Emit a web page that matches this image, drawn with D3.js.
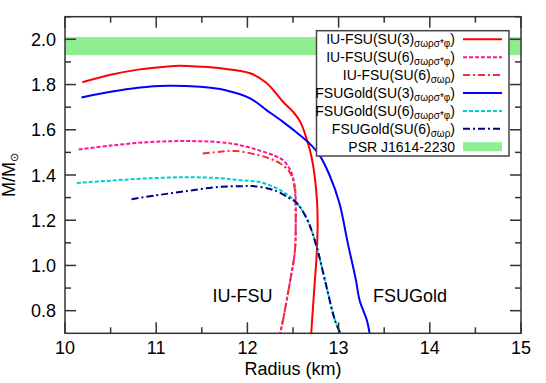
<!DOCTYPE html>
<html>
<head>
<meta charset="utf-8">
<script src="https://cdn.jsdelivr.net/npm/d3@7"></script>
<style>
  body { margin: 0; background: #fff; }
  text { font-family: "Liberation Sans", Arial, sans-serif; fill: #000; }
</style>
</head>
<body>
<div id="chart"></div>
<script>
// IU-FSU SU(3) sigma-omega-rho-sigma*-phi
const iuSU3R = [10.19, 10.5, 10.8, 11.1, 11.26, 11.48, 11.7, 12.03, 12.21, 12.39, 12.5, 12.58, 12.68, 12.72, 12.76, 12.77, 12.76, 12.74, 12.72, 12.70];
const iuSU3M = [1.81, 1.843, 1.866, 1.879, 1.883, 1.879, 1.872, 1.85, 1.807, 1.724, 1.68, 1.635, 1.518, 1.444, 1.304, 1.20, 1.05, 0.935, 0.82, 0.70];
// IU-FSU SU(6) sigma-omega-rho-sigma*-phi
const iuSU6R = [10.15, 10.5, 10.9, 11.29, 11.7, 11.92, 12.12, 12.3, 12.39, 12.47, 12.52, 12.53, 12.52, 12.47, 12.39, 12.36];
const iuSU6M = [1.513, 1.53, 1.545, 1.55, 1.545, 1.532, 1.51, 1.485, 1.466, 1.422, 1.348, 1.20, 1.06, 0.935, 0.758, 0.70];
// IU-FSU SU(6) sigma-omega-rho
const iuSU6wR = [11.51, 11.7, 11.88, 12.1, 12.25, 12.36, 12.45, 12.5, 12.52, 12.53, 12.52, 12.47, 12.39, 12.36];
const iuSU6wM = [1.495, 1.503, 1.506, 1.49, 1.472, 1.451, 1.42, 1.38, 1.33, 1.20, 1.06, 0.935, 0.758, 0.70];
// FSUGold SU(3) sigma-omega-rho-sigma*-phi
const fsuSU3R = [10.18, 10.5, 10.8, 11.12, 11.48, 11.75, 12.03, 12.21, 12.39, 12.55, 12.68, 12.79, 12.9, 13.01, 13.1, 13.19, 13.23, 13.31, 13.34];
const fsuSU3M = [1.743, 1.768, 1.786, 1.795, 1.79, 1.776, 1.739, 1.687, 1.635, 1.585, 1.54, 1.488, 1.40, 1.274, 1.10, 0.935, 0.846, 0.758, 0.70];
// FSUGold SU(6) sigma-omega-rho-sigma*-phi
const fsuSU6R = [10.13, 10.5, 10.9, 11.33, 11.7, 11.92, 12.14, 12.36, 12.53, 12.65, 12.76, 12.85, 12.96, 13.02];
const fsuSU6M = [1.365, 1.375, 1.385, 1.39, 1.386, 1.377, 1.368, 1.333, 1.281, 1.208, 1.082, 0.935, 0.758, 0.70];
// FSUGold SU(6) sigma-omega-rho
const fsuSU6wR = [10.73, 11.0, 11.3, 11.7, 11.92, 12.06, 12.29, 12.45, 12.53, 12.65, 12.76, 12.85, 12.96, 13.02];
const fsuSU6wM = [1.293, 1.31, 1.327, 1.348, 1.35, 1.351, 1.333, 1.30, 1.281, 1.208, 1.082, 0.935, 0.758, 0.70];

// PSR J1614-2230 mass band
const psrLow = 1.93, psrHigh = 2.01;

const legendMain = ["IU-FSU(SU(3)", "IU-FSU(SU(6)", "IU-FSU(SU(6)", "FSUGold(SU(3)", "FSUGold(SU(6)", "FSUGold(SU(6)", "PSR J1614-2230"];
const legendSub = ["σωρσ*φ", "σωρσ*φ", "σωρ", "σωρσ*φ", "σωρσ*φ", "σωρ", ""];

const xTicks = [10, 11, 12, 13, 14, 15];
const yTicks = [0.8, 1.0, 1.2, 1.4, 1.6, 1.8, 2.0];

const series = [
  {R: iuSU3R, M: iuSU3M, color: "#ff0000", dash: null},
  {R: iuSU6R, M: iuSU6M, color: "#ff1493", dash: "4,2"},
  {R: iuSU6wR, M: iuSU6wM, color: "#f03030", dash: "7,3,2,3"},
  {R: fsuSU3R, M: fsuSU3M, color: "#0000ff", dash: null},
  {R: fsuSU6R, M: fsuSU6M, color: "#00cdd0", dash: "4,2"},
  {R: fsuSU6wR, M: fsuSU6wM, color: "#000080", dash: "7,3,2,3"}
];

const W = 546, H = 383;
const pLeft = 65, pRight = 521, pTop = 16.7, pBottom = 333.3;

const svg = d3.select("#chart").append("svg")
  .attr("width", W).attr("height", H);

const x = d3.scaleLinear().domain([10, 15]).range([pLeft, pRight]);
const y = d3.scaleLinear().domain([0.7, 2.1]).range([pBottom, pTop]);

svg.append("defs").append("clipPath").attr("id", "clip")
  .append("rect")
  .attr("x", pLeft).attr("y", pTop)
  .attr("width", pRight - pLeft).attr("height", pBottom - pTop);

// green band
svg.append("rect")
  .attr("x", pLeft).attr("width", pRight - pLeft)
  .attr("y", y(psrHigh)).attr("height", y(psrLow) - y(psrHigh))
  .attr("fill", "#90ee90");

const line = d3.line()
  .x(d => x(d[0]))
  .y(d => y(d[1]))
  .curve(d3.curveCatmullRom.alpha(0.5));

const curves = svg.append("g").attr("clip-path", "url(#clip)");
series.forEach(s => {
  const pts = s.R.map((r, i) => [r, s.M[i]]);
  curves.append("path")
    .attr("d", line(pts))
    .attr("fill", "none")
    .attr("stroke", s.color)
    .attr("stroke-width", 2)
    .attr("stroke-dasharray", s.dash);
});

// axes with inward ticks on all sides
const axisColor = "#333";
const xMinor = d3.range(10.5, 15, 1);
const yMinor = d3.range(0.9, 2.1, 0.2);

function tickLines(g, vals, horiz, len, pos) {
  vals.forEach(v => {
    if (horiz) {
      g.append("line").attr("x1", x(v)).attr("x2", x(v))
        .attr("y1", pos).attr("y2", pos + len);
    } else {
      g.append("line").attr("y1", y(v)).attr("y2", y(v))
        .attr("x1", pos).attr("x2", pos + len);
    }
  });
}

const ticks = svg.append("g").attr("stroke", axisColor).attr("stroke-width", 1.5);
tickLines(ticks, xTicks, true, -11, pBottom);
tickLines(ticks, xMinor, true, -6, pBottom);
tickLines(ticks, xTicks, true, 11, pTop);
tickLines(ticks, xMinor, true, 6, pTop);
tickLines(ticks, yTicks, false, 11, pLeft);
tickLines(ticks, yMinor, false, 6, pLeft);
tickLines(ticks, yTicks, false, -11, pRight);
tickLines(ticks, yMinor, false, -6, pRight);

svg.append("rect")
  .attr("x", pLeft).attr("y", pTop)
  .attr("width", pRight - pLeft).attr("height", pBottom - pTop)
  .attr("fill", "none").attr("stroke", axisColor).attr("stroke-width", 1.5);

svg.selectAll(".xlab").data(xTicks).enter().append("text")
  .attr("x", d => x(d)).attr("y", 354)
  .attr("text-anchor", "middle").style("font-size", "18px")
  .text(d => d);

svg.selectAll(".ylab").data(yTicks).enter().append("text")
  .attr("x", 56).attr("y", d => y(d) + 6.5)
  .attr("text-anchor", "end").style("font-size", "18px")
  .text(d => d.toFixed(1));

svg.append("text")
  .attr("x", (pLeft + pRight) / 2).attr("y", 375)
  .attr("text-anchor", "middle").style("font-size", "18px")
  .text("Radius (km)");

const yTitle = svg.append("text")
  .attr("transform", `translate(15,${(pTop + pBottom) / 2}) rotate(-90)`)
  .attr("text-anchor", "middle").style("font-size", "18px");
yTitle.append("tspan").text("M/M");
yTitle.append("tspan").attr("dy", 3).style("font-size", "11px").text("⊙");

// in-plot labels
svg.append("text").attr("x", 242.5).attr("y", 302)
  .attr("text-anchor", "middle").style("font-size", "18px").text("IU-FSU");
svg.append("text").attr("x", 410).attr("y", 302)
  .attr("text-anchor", "middle").style("font-size", "18px").text("FSUGold");

// legend
const legend = svg.append("g");
legend.append("rect")
  .attr("x", 316.5).attr("y", 30.7)
  .attr("width", 509 - 316.5).attr("height", 156 - 30.7)
  .attr("fill", "#fff").attr("stroke", "#444").attr("stroke-width", 1.5);

legendMain.forEach((lab, i) => {
  const cy = 39.3 + i * 17.9;
  const t = legend.append("text")
    .attr("x", 455).attr("y", cy + 5)
    .attr("text-anchor", "end").style("font-size", "14px");
  t.append("tspan").text(lab);
  if (legendSub[i]) {
    t.append("tspan").attr("dy", 3).style("font-size", "10px").text(legendSub[i]);
    t.append("tspan").attr("dy", -3).text(")");
  }
  if (i < series.length) {
    legend.append("line")
      .attr("x1", 463).attr("x2", 502)
      .attr("y1", cy).attr("y2", cy)
      .attr("stroke", series[i].color).attr("stroke-width", 2)
      .attr("stroke-dasharray", series[i].dash);
  } else {
    legend.append("rect")
      .attr("x", 463).attr("y", cy - 4.5)
      .attr("width", 39).attr("height", 9)
      .attr("fill", "#90ee90");
  }
});
</script>
</body>
</html>
